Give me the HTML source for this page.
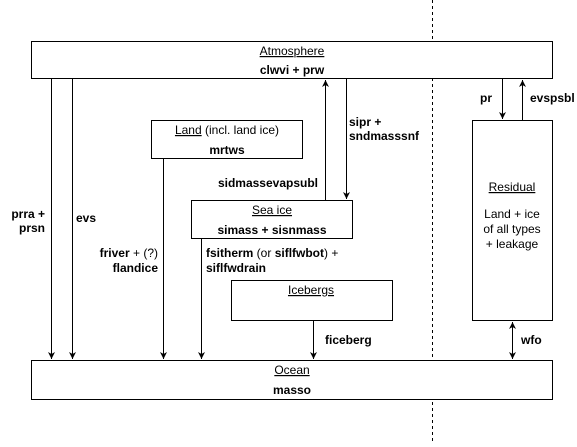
<!DOCTYPE html>
<html><head><meta charset="utf-8"><style>
html,body{margin:0;padding:0;background:#fff}
svg text{font-family:"Liberation Sans",Arial,sans-serif;font-size:12px;fill:#000}
.b{font-weight:bold}
</style></head><body>
<svg width="577" height="442" viewBox="0 0 577 442" xmlns="http://www.w3.org/2000/svg">
<defs><marker id="a" markerWidth="8" markerHeight="8" refX="7" refY="4" orient="auto" markerUnits="userSpaceOnUse"><path d="M0,0.5 L7,4 L0,7.5 L2,4 Z" fill="#000"/></marker></defs>
<line x1="432.5" y1="0" x2="432.5" y2="442" stroke="#000" stroke-dasharray="3,3"/>
<g fill="#fff" stroke="#000">
<rect x="31.5" y="41.5" width="521" height="37"/>
<rect x="151.5" y="120.5" width="151" height="38"/>
<rect x="191.5" y="200.5" width="161" height="38"/>
<rect x="231.5" y="280.5" width="161" height="40"/>
<rect x="472.5" y="120.5" width="80" height="200"/>
<rect x="31.5" y="360.5" width="521" height="39"/>
</g>
<g stroke="#000" marker-end="url(#a)">
<line x1="51.5" y1="79" x2="51.5" y2="359"/>
<line x1="72.5" y1="79" x2="72.5" y2="359"/>
<line x1="163.5" y1="159" x2="163.5" y2="359"/>
<line x1="201.5" y1="239" x2="201.5" y2="359"/>
<line x1="313.5" y1="321" x2="313.5" y2="359"/>
<line x1="325.5" y1="200" x2="325.5" y2="80"/>
<line x1="346.5" y1="79" x2="346.5" y2="199"/>
<line x1="502.5" y1="79" x2="502.5" y2="119"/>
<line x1="522.5" y1="120" x2="522.5" y2="80"/>
<line x1="512.5" y1="340" x2="512.5" y2="359"/>
<line x1="512.5" y1="340" x2="512.5" y2="322"/>
</g>
<g text-anchor="middle">
<text x="292" y="55" text-decoration="underline">Atmosphere</text>
<text x="292" y="74" class="b">clwvi + prw</text>
<text x="227" y="134"><tspan text-decoration="underline">Land</tspan> (incl. land ice)</text>
<text x="227" y="154" class="b">mrtws</text>
<text x="272" y="214" text-decoration="underline">Sea ice</text>
<text x="272" y="234" class="b">simass + sisnmass</text>
<text x="311" y="294" text-decoration="underline">Icebergs</text>
<text x="512" y="191" text-decoration="underline">Residual</text>
<text x="512" y="218">Land + ice</text>
<text x="512" y="233">of all types</text>
<text x="512" y="248">+ leakage</text>
<text x="292" y="374" text-decoration="underline">Ocean</text>
<text x="292" y="394" class="b">masso</text>
</g>
<g text-anchor="end">
<text x="45" y="218" class="b">prra +</text>
<text x="45" y="232" class="b">prsn</text>
<text x="318" y="187" class="b">sidmassevapsubl</text>
<text x="158" y="257"><tspan class="b">friver</tspan> + (?)</text>
<text x="158" y="272" class="b">flandice</text>
</g>
<text x="76" y="222" class="b">evs</text>
<text x="349" y="126" class="b">sipr +</text>
<text x="349" y="140" class="b">sndmasssnf</text>
<text x="206" y="257"><tspan class="b">fsitherm</tspan> (or <tspan class="b">siflfwbot</tspan>) +</text>
<text x="206" y="272" class="b">siflfwdrain</text>
<text x="325" y="344" class="b">ficeberg</text>
<text x="480" y="102" class="b">pr</text>
<text x="530" y="102" class="b">evspsbl</text>
<text x="521" y="344" class="b">wfo</text>
</svg>
</body></html>
